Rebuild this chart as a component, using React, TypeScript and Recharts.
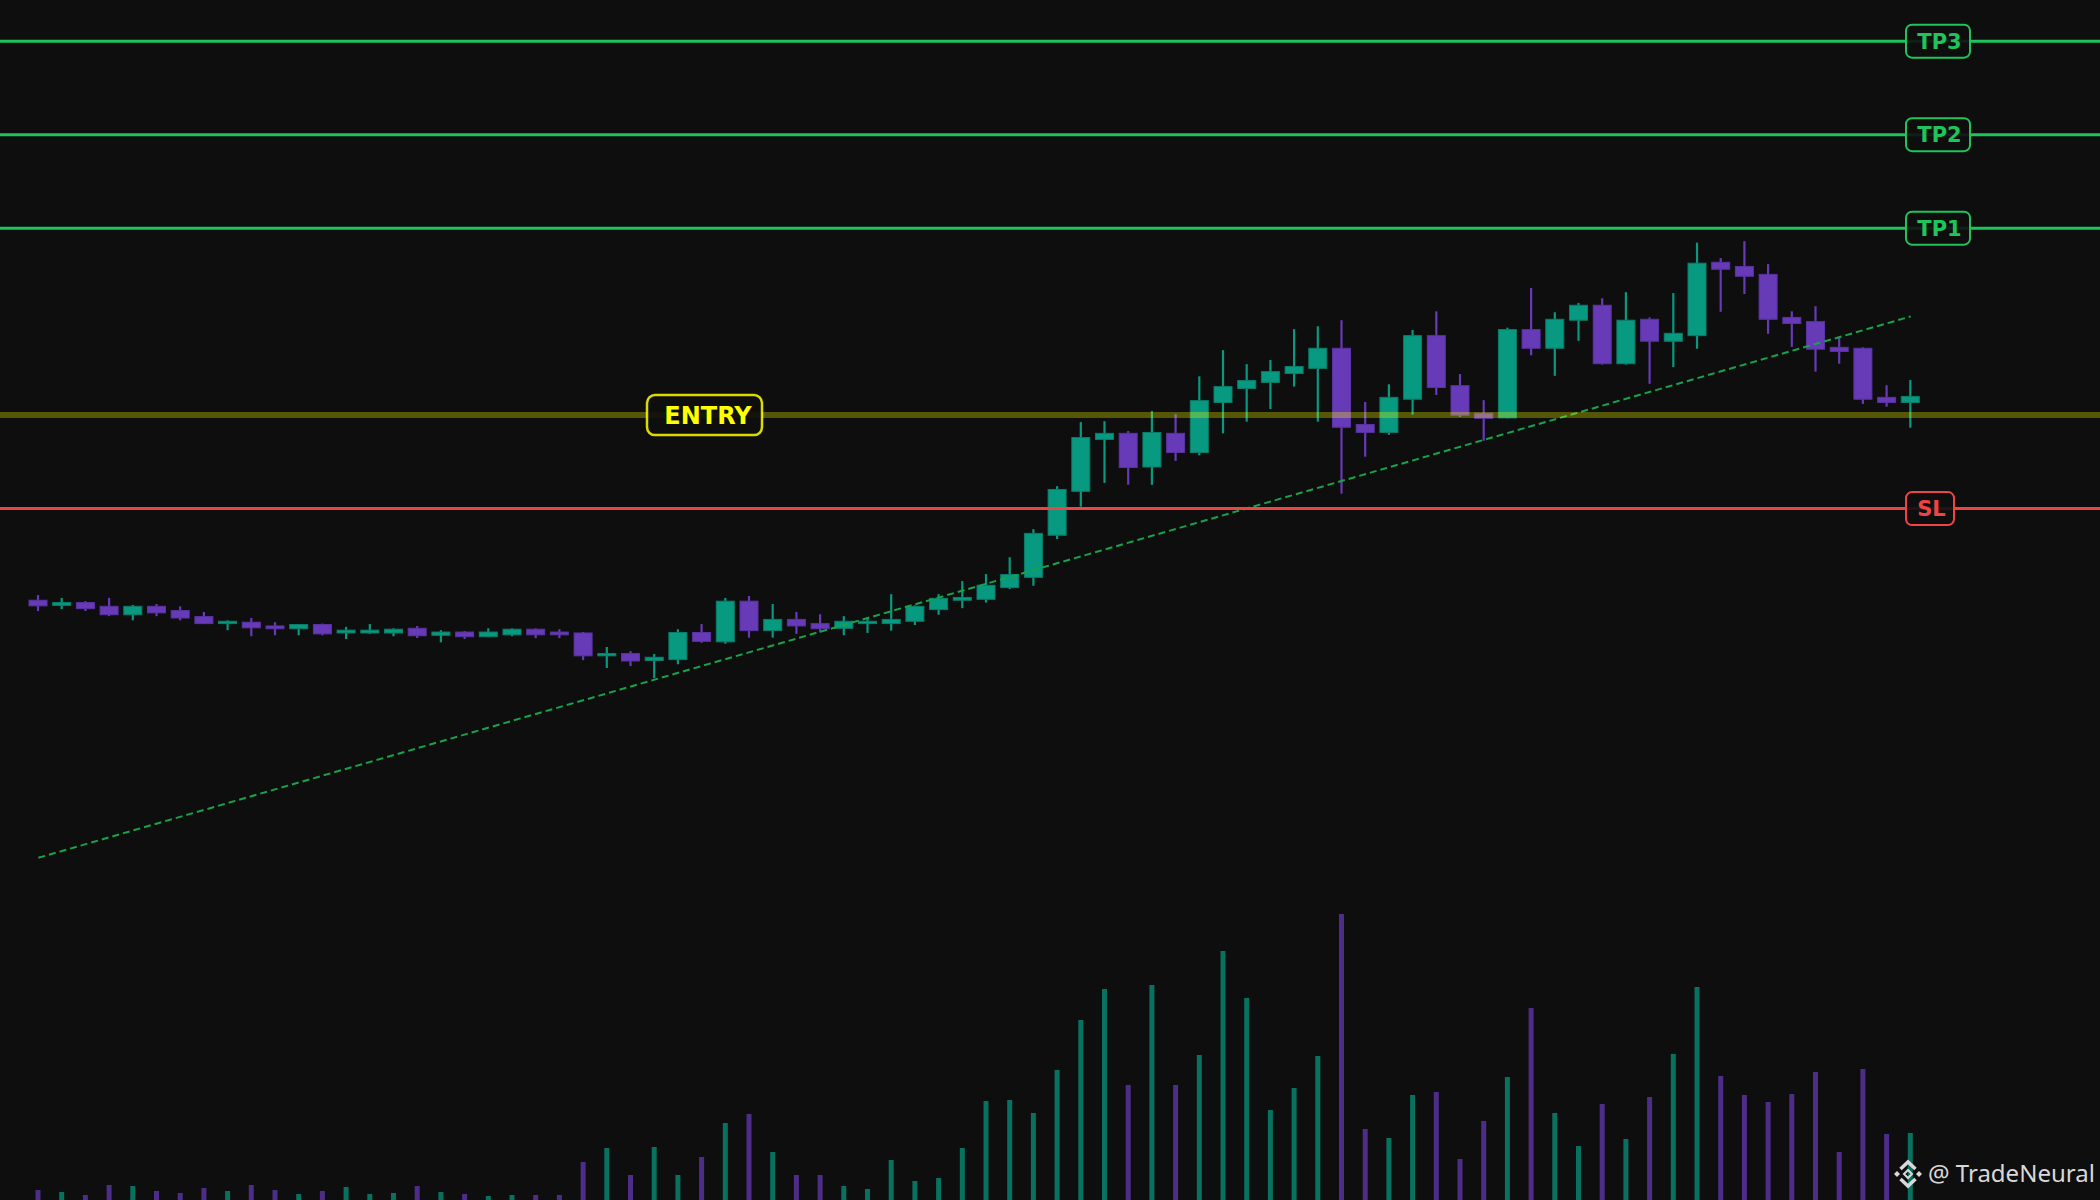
import React from 'react';
import { ComposedChart, BarChart, Bar, Line, XAxis, YAxis, ReferenceLine, Cell } from 'recharts';

const W = 2100;
const H = 1200;
const MARGIN = { top: 0, right: 177.5, bottom: 0, left: 26.5 };
const BG = '#0e0e0e';
const BULL = '#089981';
const BEAR = '#673ab7';
const BULL_EDGE = '#0a7d69';
const BEAR_EDGE = '#5a32a3';

// OHLC (arbitrary price units, entry = 100)
const opens = [
  96.04, 95.93, 95.99, 95.91, 95.73, 95.91, 95.82, 95.69, 95.54, 95.57,
  95.49, 95.43, 95.52, 95.34, 95.34, 95.34, 95.44, 95.29, 95.36, 95.26,
  95.3, 95.42, 95.36, 95.34, 94.85, 94.9, 94.75, 94.77, 95.35, 95.15,
  96.02, 95.39, 95.63, 95.54, 95.44, 95.54, 95.54, 95.59, 95.84, 96.04,
  96.06, 96.31, 96.53, 97.43, 98.37, 99.48, 99.61, 98.89, 99.61, 99.2,
  100.27, 100.57, 100.7, 100.89, 101.0, 101.43, 99.8, 99.63, 100.34, 101.7,
  100.63, 100.04, 99.94, 101.83, 101.43, 102.03, 102.35, 101.1, 102.05, 101.58,
  101.7, 103.27, 103.18, 103.01, 102.09, 102.0, 101.45, 101.43, 100.38, 100.27,
];
const highs = [
  96.15, 96.09, 96.02, 96.09, 95.94, 95.96, 95.91, 95.79, 95.61, 95.66,
  95.57, 95.53, 95.54, 95.47, 95.53, 95.44, 95.49, 95.4, 95.38, 95.44,
  95.44, 95.44, 95.42, 95.36, 95.04, 94.95, 94.89, 95.42, 95.53, 96.09,
  96.13, 95.96, 95.79, 95.74, 95.7, 95.67, 96.17, 95.93, 96.17, 96.45,
  96.6, 96.96, 97.56, 98.48, 99.85, 99.87, 99.66, 100.09, 100.02, 100.83,
  101.39, 101.09, 101.18, 101.84, 101.9, 102.03, 100.28, 100.66, 101.82, 102.22,
  100.88, 100.32, 101.87, 102.72, 102.2, 102.4, 102.5, 102.63, 102.09, 102.61,
  103.69, 103.36, 103.72, 103.23, 102.22, 102.33, 101.67, 101.45, 100.64, 100.75,
];
const lows = [
  95.81, 95.85, 95.81, 95.7, 95.61, 95.7, 95.61, 95.53, 95.4, 95.27,
  95.29, 95.29, 95.29, 95.21, 95.32, 95.27, 95.23, 95.14, 95.21, 95.25,
  95.27, 95.23, 95.23, 94.76, 94.59, 94.63, 94.37, 94.67, 95.13, 95.11,
  95.24, 95.24, 95.32, 95.35, 95.29, 95.34, 95.39, 95.51, 95.73, 95.87,
  95.99, 96.28, 96.35, 97.35, 98.04, 98.55, 98.51, 98.51, 99.02, 99.14,
  99.61, 99.86, 100.13, 100.61, 99.86, 98.32, 99.11, 99.58, 100.01, 100.43,
  99.96, 99.45, 99.93, 101.28, 100.84, 101.59, 101.08, 101.08, 100.67, 101.03,
  101.42, 102.21, 102.59, 101.74, 101.46, 100.93, 101.1, 100.24, 100.18, 99.73,
];
const closes = [
  95.92, 95.99, 95.86, 95.73, 95.91, 95.77, 95.66, 95.54, 95.59, 95.45,
  95.43, 95.52, 95.32, 95.4, 95.4, 95.42, 95.28, 95.36, 95.26, 95.36,
  95.42, 95.3, 95.3, 94.85, 94.9, 94.74, 94.82, 95.35, 95.16, 96.02,
  95.39, 95.63, 95.49, 95.43, 95.59, 95.59, 95.63, 95.91, 96.08, 96.1,
  96.36, 96.59, 97.47, 98.41, 99.52, 99.61, 98.88, 99.63, 99.2, 100.31,
  100.61, 100.74, 100.93, 101.04, 101.43, 99.74, 99.63, 100.38, 101.7, 100.59,
  100.0, 99.93, 101.83, 101.43, 102.05, 102.35, 101.1, 102.03, 101.58, 101.75,
  103.25, 103.12, 102.97, 102.05, 101.96, 101.41, 101.36, 100.34, 100.27, 100.4,
];
const volumes = [
  100, 80, 50, 150, 140, 90, 70, 120, 90, 150,
  100, 60, 90, 130, 60, 70, 140, 80, 60, 40,
  50, 50, 50, 380, 520, 250, 530, 250, 430, 770,
  860, 480, 250, 250, 140, 110, 400, 190, 220, 520,
  990, 1000, 870, 1300, 1800, 2110, 1150, 2150, 1150, 1450,
  2490, 2020, 900, 1120, 1440, 2860, 710, 620, 1050, 1080,
  410, 790, 1230, 1920, 870, 540, 960, 610, 1030, 1460,
  2130, 1240, 1050, 980, 1060, 1280, 480, 1310, 660, 670,
];

// trade levels
const ENTRY = 100;
const STOP = 98;
const TARGETS = [104, 106, 108];
const TARGET_LABELS = ['TP1', 'TP2', 'TP3'];
// dashed trendline, first and last candle
const trendPoints = [90.53, 102.11];

const PRICE_DOMAIN = [83.21, 108.88];
const VOL_DOMAIN = [0, 12000];

const rows = opens.map((o, i) => ({
  i,
  open: o,
  high: highs[i],
  low: lows[i],
  close: closes[i],
  range: [lows[i], highs[i]],
  vol: volumes[i],
  trend: i === 0 ? trendPoints[0] : i === opens.length - 1 ? trendPoints[1] : null,
}));

const Candle = (props: any) => {
  const { x, y, width, height, payload } = props;
  if (!payload || x == null) return null;
  const { open, close, high, low } = payload;
  const top = Math.min(y, y + height);
  const span = Math.abs(height);
  const k = span / (high - low);
  const py = (v: number) => top + (high - v) * k;
  const up = close >= open;
  const color = up ? BULL : BEAR;
  const cx = x + width / 2;
  const bodyTop = py(Math.max(open, close));
  const bodyH = Math.max(py(Math.min(open, close)) - bodyTop, 2);
  return (
    <g>
      <line x1={cx} x2={cx} y1={top} y2={top + span} stroke={color} strokeWidth={2.2} />
      <rect x={x + 0.5} y={bodyTop} width={width - 1} height={bodyH} fill={color} stroke={up ? BULL_EDGE : BEAR_EDGE} strokeWidth={1} />
    </g>
  );
};

// full-width level line with a boxed tag
const levelShape = (text: string, color: string, boxX: number, boxW: number) => (p: any) => (
  <g>
    <line x1={0} x2={W} y1={p.y1} y2={p.y2} stroke={color} strokeWidth={3} />
    <rect x={boxX} y={p.y1 - 16.5} width={boxW} height={33} rx={6} fill={BG} fillOpacity={0.9} stroke={color} strokeWidth={2} />
    <text x={boxX + boxW / 2 + 1.5} y={p.y1 + 7.5} textAnchor="middle" fill={color} fontFamily="DejaVu Sans" fontWeight="bold" fontSize={21}>
      {text}
    </text>
  </g>
);

const entryShape = (p: any) => (
  <g>
    <line x1={0} x2={W} y1={p.y1} y2={p.y2} stroke="#ffff00" strokeOpacity={0.3} strokeWidth={6} />
    <rect x={647} y={p.y1 - 20} width={115} height={40} rx={8} fill={BG} fillOpacity={0.92} stroke="#ffff00" strokeOpacity={0.85} strokeWidth={2.5} />
    <text x={708} y={p.y1 + 8.5} textAnchor="middle" fill="#ffff00" fontFamily="DejaVu Sans" fontWeight="bold" fontSize={24}>
      ENTRY
    </text>
  </g>
);

const Watermark = () => {
  const cx = 1908;
  const cy = 1174;
  const c = '#d8d8d8';
  return (
    <svg width={W} height={H} style={{ position: 'absolute', left: 0, top: 0, pointerEvents: 'none' }}>
      <polyline points={`${cx - 7.5},${cy - 5} ${cx},${cy - 12} ${cx + 7.5},${cy - 5}`} fill="none" stroke={c} strokeWidth={3.5} />
      <polyline points={`${cx - 7.5},${cy + 5} ${cx},${cy + 12} ${cx + 7.5},${cy + 5}`} fill="none" stroke={c} strokeWidth={3.5} />
      <polygon points={`${cx - 14},${cy} ${cx - 11},${cy - 3} ${cx - 8},${cy} ${cx - 11},${cy + 3}`} fill={c} />
      <polygon points={`${cx + 8},${cy} ${cx + 11},${cy - 3} ${cx + 14},${cy} ${cx + 11},${cy + 3}`} fill={c} />
      <polygon points={`${cx - 4},${cy} ${cx},${cy - 4} ${cx + 4},${cy} ${cx},${cy + 4}`} fill="none" stroke={c} strokeWidth={2} />
      <text x={1928} y={1182} fill={c} fontFamily="Noto Sans" fontSize={24}>
        @ TradeNeural
      </text>
    </svg>
  );
};

export default function App() {
  return (
    <div style={{ position: 'fixed', left: 0, top: 0, width: W, height: H, background: BG, overflow: 'hidden' }}>
      <div style={{ position: 'absolute', left: 0, top: 0 }}>
        <BarChart width={W} height={H} data={rows} margin={MARGIN}>
          <XAxis dataKey="i" hide />
          <YAxis hide domain={VOL_DOMAIN} />
          <Bar dataKey="vol" barSize={5} isAnimationActive={false}>
            {rows.map((r) => (
              <Cell key={r.i} fill={r.close >= r.open ? BULL : BEAR} fillOpacity={0.72} />
            ))}
          </Bar>
        </BarChart>
      </div>
      <div style={{ position: 'absolute', left: 0, top: 0 }}>
        <ComposedChart width={W} height={H} data={rows} margin={MARGIN}>
          <XAxis dataKey="i" hide />
          <YAxis hide domain={PRICE_DOMAIN} allowDataOverflow />
          <Bar dataKey="range" barSize={19} shape={Candle} isAnimationActive={false} />
          <Line
            dataKey="trend"
            type="linear"
            connectNulls
            dot={false}
            stroke="#16a34a"
            strokeWidth={2}
            strokeDasharray="7 4"
            isAnimationActive={false}
          />
          <ReferenceLine y={STOP} shape={levelShape('SL', '#ef4444', 1906, 48)} />
          {TARGETS.map((t, k) => (
            <ReferenceLine key={t} y={t} shape={levelShape(TARGET_LABELS[k], '#1fc45c', 1906, 64)} />
          ))}
          <ReferenceLine y={ENTRY} shape={entryShape} />
        </ComposedChart>
      </div>
      <Watermark />
    </div>
  );
}
